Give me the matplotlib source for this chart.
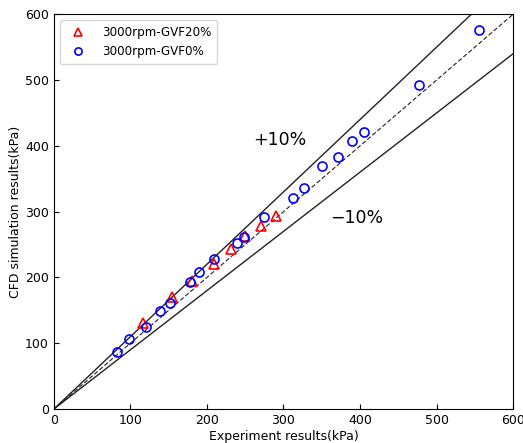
import matplotlib
matplotlib.use("Agg")
import matplotlib.pyplot as plt
import numpy as np

gvf20_x = [116.3, 154.2, 180.4, 209.2, 231.4, 250.3, 270.6, 290.2]
gvf20_y = [130.6, 170.1, 194.4, 220.3, 243.8, 262.8, 278.0, 293.6]

gvf0_x = [82.7, 97.6, 120.3, 138.6, 151.6, 177.8, 189.9, 209.5, 239.6, 248.4, 274.9,
          312.8, 326.8, 349.9, 371.6, 389.2, 405.2, 477.1, 555.6]
gvf0_y = [86.1, 105.9, 125.0, 149.3, 161.5, 193.7, 208.6, 227.4, 251.7, 261.7, 292.1,
          321.0, 335.3, 369.1, 383.3, 407.1, 420.8, 492.2, 576.8]

ref_x = [0, 600]

fig = plt.figure(figsize=(5.23, 4.43), dpi=100)
ax = fig.add_axes([0.103, 0.0767, 0.878, 0.891])

ax.plot(ref_x, [v * 1.1 for v in ref_x], color='#222222', lw=1.0)
ax.plot(ref_x, [v * 0.9 for v in ref_x], color='#222222', lw=1.0)
ax.plot(ref_x, ref_x, color='#222222', lw=0.8, ls=(0, (4, 2)))

ax.plot(gvf20_x, gvf20_y, linestyle='none', marker='^', mfc='none', mec='red',
        ms=6.5, mew=1.2, label='3000rpm-GVF20%')
ax.plot(gvf0_x, gvf0_y, linestyle='none', marker='o', mfc='none', mec='blue',
        ms=6.5, mew=1.2, label='3000rpm-GVF0%')

ax.text(260, 409, '+10%', fontsize=12.5, va='center', ha='left')
ax.text(361, 290, '\u221210%', fontsize=12.5, va='center', ha='left')

ax.set_xlim(0, 600)
ax.set_ylim(0, 600)
ax.set_xticks(np.arange(0, 601, 100))
ax.set_yticks(np.arange(0, 601, 100))
ax.tick_params(direction='in', labelsize=9)
ax.set_xlabel('Experiment results(kPa)', fontsize=9, labelpad=2)
ax.set_ylabel('CFD simulation results(kPa)', fontsize=9, labelpad=2)
ax.legend(loc='upper left', fontsize=8.6, handletextpad=1.0, borderpad=0.5,
          markerscale=0.8)

fig.savefig('out.png', dpi=100)
